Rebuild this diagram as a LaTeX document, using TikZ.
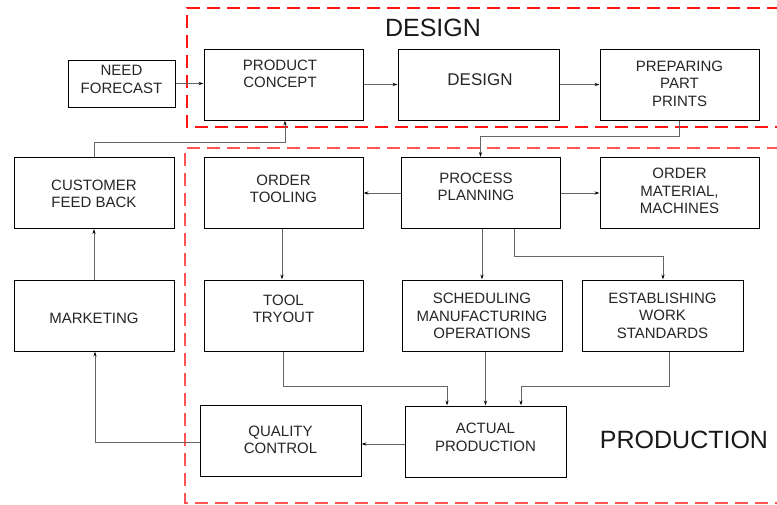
\documentclass[tikz,border=0pt]{standalone}
\usepackage{fontspec}
\setmainfont{Liberation Sans}
\usetikzlibrary{arrows.meta}
\definecolor{zonered}{RGB}{255,20,20}
\definecolor{zonepink}{RGB}{255,85,85}
\begin{document}
\begin{tikzpicture}[x=1pt,y=-1pt,
  box/.style={draw=black,line width=1pt,minimum width=159pt,minimum height=71pt,inner sep=0pt},
  btxt/.style={align=center,font=\fontsize{15pt}{17.5pt}\selectfont,text=black!85,inner sep=0pt},
  conn/.style={draw=black!60,line width=0.9pt,-{Stealth[length=5pt,width=3.2pt,black]}},
  zone/.style={line width=1.2pt,dash pattern=on 13pt off 7pt},
  ztxt/.style={font=\fontsize{25pt}{30pt}\selectfont,text=black!90,inner sep=0pt}]
\clip (0,0) rectangle (777,504);
\fill[white] (0,0) rectangle (777,504);
% zones
\draw[zone,draw=zonered] (800,8) -- (187,8) -- (187,127) -- (800,127);
\draw[zone,draw=zonepink] (800,148) -- (185,148) -- (185,503) -- (800,503);
\node[ztxt] (zd) at (433,28) {DESIGN};
\node[ztxt] (zp) at (684,440) {PRODUCTION};
% boxes
\node[box,minimum width=107pt,minimum height=47pt] (nf) at (121.5,83.5) {};
\node[btxt] (nft) at (121.5,79.5) {NEED\\FORECAST};
\node[box] (pc) at (283.5,84.5) {};
\node[btxt] (pct) at (280,74) {PRODUCT\\CONCEPT};
\node[box,minimum width=161pt] (ds) at (478.5,84.5) {};
\node[btxt,font=\fontsize{17pt}{20pt}\selectfont] (dst) at (480,80) {DESIGN};
\node[box] (pp) at (679.5,84.5) {};
\node[btxt] (ppt) at (679.5,83.5) {PREPARING\\PART\\PRINTS};
\node[box,minimum width=160pt] (cf) at (94,193) {};
\node[btxt] (cft) at (94,194) {CUSTOMER\\FEED BACK};
\node[box,minimum width=160pt] (mk) at (94,315.5) {};
\node[btxt] (mkt) at (94,318) {MARKETING};
\node[box] (ot) at (283.5,193) {};
\node[btxt] (ott) at (283.5,189) {ORDER\\TOOLING};
\node[box] (tt) at (283.5,315.5) {};
\node[btxt] (ttt) at (283.5,309) {TOOL\\TRYOUT};
\node[box] (proc) at (480.5,193) {};
\node[btxt] (proct) at (476,187) {PROCESS\\PLANNING};
\node[box] (om) at (679.5,193) {};
\node[btxt] (omt) at (679.5,191) {ORDER\\MATERIAL,\\MACHINES};
\node[box,minimum width=160pt] (sch) at (482,315.5) {};
\node[btxt] (scht) at (482,316) {SCHEDULING\\MANUFACTURING\\OPERATIONS};
\node[box,minimum width=161pt] (es) at (662.5,315.5) {};
\node[btxt] (est) at (662.5,315.5) {ESTABLISHING\\WORK\\STANDARDS};
\node[box,minimum width=161pt] (qc) at (280.5,440.5) {};
\node[btxt] (qct) at (280.5,440) {QUALITY\\CONTROL};
\node[box,minimum width=161pt] (ap) at (485.5,441.5) {};
\node[btxt] (apt) at (485.5,437.5) {ACTUAL\\PRODUCTION};
% connectors
\draw[conn] (nf.east) -- (nf.east -| pc.west);
\draw[conn] (pc.east) -- (ds.west);
\draw[conn] (ds.east) -- (pp.west);
\draw[conn] (pp.south) -- ++(0,16) -| (proc.north);
\draw[conn] (cf.north) -- ++(0,-15) -| ([xshift=1.5pt]pc.south);
\draw[conn] (mk.north) -- (cf.south);
\draw[conn] (proc.west) -- (ot.east);
\draw[conn] (proc.east) -- (om.west);
\draw[conn] ([xshift=-1.5pt]ot.south) -- ([xshift=-1.5pt]tt.north);
\draw[conn] (sch.north |- proc.south) -- (sch.north);
\draw[conn] ([xshift=33.5pt]proc.south) -- ++(0,27) -| ([xshift=0.5pt]es.north);
\draw[conn] (tt.south) -- ++(0,35) -| ([xshift=-38.5pt]ap.north);
\draw[conn] (ap.north |- sch.south) -- (ap.north);
\draw[conn] ([xshift=6.5pt]es.south) -- ++(0,35) -| ([xshift=35.5pt]ap.north);
\draw[conn] ([yshift=-2.5pt]ap.west) -- ([yshift=-2.5pt]ap.west -| qc.east);
\draw[conn] ([yshift=-1.5pt]qc.west) -| ([xshift=1pt]mk.south);
\end{tikzpicture}
\end{document}
